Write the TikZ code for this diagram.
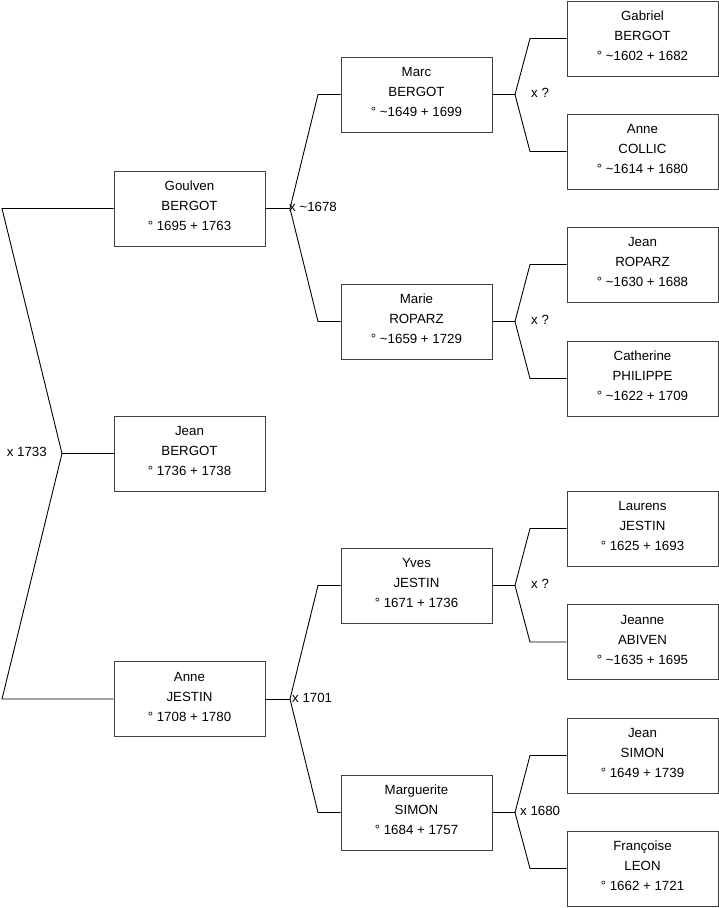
\documentclass[tikz,border=0pt]{standalone}
\usepackage{fontspec}
\setmainfont{Liberation Sans}
\begin{document}
\begin{tikzpicture}[x=1pt,y=-1pt,
    person/.style={draw=black!75, line width=1pt, fill=white, minimum width=151pt, minimum height=75pt,
        align=center, inner sep=0pt, text height=50pt, text depth=6pt, font=\fontsize{13.3}{20}\selectfont},
    link/.style={black, line width=0.9pt},
    union/.style={inner sep=1pt, font=\fontsize{13.3}{15}\selectfont}]
    \useasboundingbox (0,0) rectangle (719,908);
    % generation 1
    \node[person] (goulven) at (189.5,208.5) {Goulven\\BERGOT\\° 1695 + 1763};
    \node[person] (jean) at (189.5,453.5) {Jean\\BERGOT\\° 1736 + 1738};
    \node[person] (anne) at (189.5,699) {Anne\\JESTIN\\° 1708 + 1780};
    % generation 2
    \node[person] (marc) at (416.5,94.5) {Marc\\BERGOT\\° \textasciitilde1649 + 1699};
    \node[person] (marie) at (416.5,321.5) {Marie\\ROPARZ\\° \textasciitilde1659 + 1729};
    \node[person] (yves) at (416.5,585.5) {Yves\\JESTIN\\° 1671 + 1736};
    \node[person] (marguerite) at (416.5,812.5) {Marguerite\\SIMON\\° 1684 + 1757};
    % generation 3
    \node[person] (gabriel) at (642.5,38.5) {Gabriel\\BERGOT\\° \textasciitilde1602 + 1682};
    \node[person] (annec) at (642.5,151.5) {Anne\\COLLIC\\° \textasciitilde1614 + 1680};
    \node[person] (jeanr) at (642.5,264.5) {Jean\\ROPARZ\\° \textasciitilde1630 + 1688};
    \node[person] (catherine) at (642.5,378.5) {Catherine\\PHILIPPE\\° \textasciitilde1622 + 1709};
    \node[person] (laurens) at (642.5,528.5) {Laurens\\JESTIN\\° 1625 + 1693};
    \node[person] (jeanne) at (642.5,642) {Jeanne\\ABIVEN\\° \textasciitilde1635 + 1695};
    \node[person] (jeans) at (642.5,755.5) {Jean\\SIMON\\° 1649 + 1739};
    \node[person] (francoise) at (642.5,868.5) {Françoise\\LEON\\° 1662 + 1721};
    % points de fourche
    \coordinate (f0) at (62,453.5);
    \coordinate (f1) at (290,208.5);
    \coordinate (f2) at (290,699);
    \coordinate (f3) at (515,94.5);
    \coordinate (f4) at (515,321.5);
    \coordinate (f5) at (515,585.5);
    \coordinate (f6) at (515,812.5);
    % coudes
    \coordinate (k0a) at (2,208.5);
    \coordinate (k0b) at (2,699);
    \coordinate (k1a) at (318,94.5);
    \coordinate (k1b) at (318,321.5);
    \coordinate (k2a) at (318,585.5);
    \coordinate (k2b) at (318,812.5);
    \coordinate (k3a) at (530,38.5);
    \coordinate (k3b) at (530,151.5);
    \coordinate (k4a) at (530,264.5);
    \coordinate (k4b) at (530,378.5);
    \coordinate (k5a) at (530,528.5);
    \coordinate (k5b) at (530,642);
    \coordinate (k6a) at (530,755.5);
    \coordinate (k6b) at (530,868.5);
    % liens enfant -> parents
    \draw[link] (goulven.west) -- (k0a) -- (f0) -- (k0b) -- (anne.west);
    \draw[link] (jean.west) -- (f0);
    \draw[link] (marc.west) -- (k1a) -- (f1) -- (k1b) -- (marie.west);
    \draw[link] (goulven.east) -- (f1);
    \draw[link] (yves.west) -- (k2a) -- (f2) -- (k2b) -- (marguerite.west);
    \draw[link] (anne.east) -- (f2);
    \draw[link] (gabriel.west) -- (k3a) -- (f3) -- (k3b) -- (annec.west);
    \draw[link] (marc.east) -- (f3);
    \draw[link] (jeanr.west) -- (k4a) -- (f4) -- (k4b) -- (catherine.west);
    \draw[link] (marie.east) -- (f4);
    \draw[link] (laurens.west) -- (k5a) -- (f5) -- (k5b) -- (jeanne.west);
    \draw[link] (yves.east) -- (f5);
    \draw[link] (jeans.west) -- (k6a) -- (f6) -- (k6b) -- (francoise.west);
    \draw[link] (marguerite.east) -- (f6);
    % mariages
    \node[union, anchor=east] (m0) at ([xshift=-14pt,yshift=1.5pt]f0) {x 1733};
    \node[union, anchor=west] (m1) at ([xshift=-2pt,yshift=1.5pt]f1) {x \textasciitilde1678};
    \node[union, anchor=west] (m2) at ([xshift=1pt,yshift=1pt]f2) {x 1701};
    \node[union, anchor=west] (m3) at ([xshift=15pt,yshift=2pt]f3) {x ?};
    \node[union, anchor=west] (m4) at ([xshift=15pt,yshift=2pt]f4) {x ?};
    \node[union, anchor=west] (m5) at ([xshift=15pt,yshift=2pt]f5) {x ?};
    \node[union, anchor=west] (m6) at ([xshift=4pt,yshift=1.5pt]f6) {x 1680};
\end{tikzpicture}
\end{document}
